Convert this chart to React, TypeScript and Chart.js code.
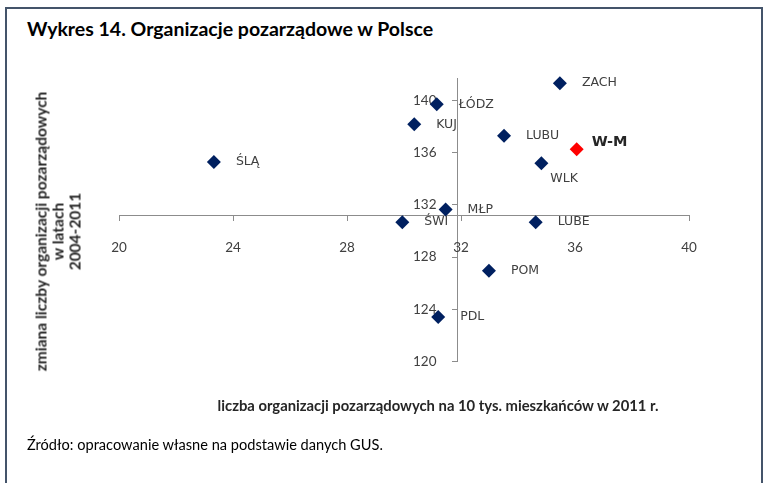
import React, { useEffect, useRef } from "react";
import { Chart, registerables } from "chart.js";

Chart.register(...registerables);

// ---- data ----
const regions = ["ŚLĄ", "ŁÓDZ", "KUJ", "ZACH", "LUBU", "W-M", "WLK", "MŁP", "ŚWI", "LUBE", "POM", "PDL"];
const orgsPer10k = [23.33, 31.15, 30.36, 35.47, 33.51, 36.06, 34.82, 31.46, 29.94, 34.62, 32.98, 31.2];
const change2004to2011 = [135.28, 139.69, 138.16, 141.3, 137.29, 136.25, 135.18, 131.64, 130.67, 130.67, 126.96, 123.42];
const highlightRegion = "W-M";
const xTickValues = [20, 24, 28, 32, 36, 40];
const yTickValues = [120, 124, 128, 132, 136, 140];
const xRange = [20, 40];
const yRange = [120, 141.7];
const crossAt = { x: 31.86, y: 131.22 };

const TITLE = "Wykres 14. Organizacje pozarządowe w Polsce";
const SOURCE = "Źródło: opracowanie własne na podstawie danych GUS.";
const X_TITLE = "liczba organizacji pozarządowych na 10 tys. mieszkańców w 2011 r.";
const Y_TITLE = ["zmiana liczby organizacji pozarządowych", "w latach", "2004-2011"];

// ---- styles ----
const NAVY = "#002060";
const RED = "#ff0000";
const AXIS = "#8c8c8c";
const TICK_TEXT = "#404040";
const LABEL_TEXT = "#404040";
const labelPlacement: Record<string, { dx: number; dy: number }> = {
  WLK: { dx: 9, dy: 16 },
  "W-M": { dx: 15, dy: -7 },
};
const defaultPlacement = { dx: 22, dy: 0 };

export default function App() {
  const ref = useRef<HTMLCanvasElement>(null);

  useEffect(() => {
    const canvas = ref.current!;
    const pts = regions.map((name, i) => ({ x: orgsPer10k[i], y: change2004to2011[i], name }));
    const mainPts = pts.filter((p) => p.name !== highlightRegion);
    const hiPts = pts.filter((p) => p.name === highlightRegion);

    const customText = {
      id: "customText",
      beforeDatasetsDraw(chart: any) {
        const ctx = chart.ctx;
        const xs = chart.scales.x;
        const ys = chart.scales.y;
        const axisX = xs.getPixelForValue(crossAt.x);
        const axisY = ys.getPixelForValue(crossAt.y);
        ctx.save();
        ctx.fillStyle = TICK_TEXT;
        ctx.font = "13.5px Lato";
        ctx.textAlign = "center";
        ctx.textBaseline = "middle";
        xs.ticks.forEach((t: any) => ctx.fillText(String(t.value), xs.getPixelForValue(t.value), axisY + 33));
        ctx.textAlign = "right";
        ys.ticks.forEach((t: any) => ctx.fillText(String(t.value), axisX - 20.5, ys.getPixelForValue(t.value)));
        ctx.restore();
      },
      afterDatasetsDraw(chart: any) {
        const ctx = chart.ctx;
        ctx.save();
        ctx.textAlign = "left";
        ctx.textBaseline = "middle";
        chart.data.datasets.forEach((ds: any, di: number) => {
          const meta = chart.getDatasetMeta(di);
          meta.data.forEach((el: any, i: number) => {
            const name = ds.data[i].name as string;
            const pl = labelPlacement[name] || defaultPlacement;
            if (name === highlightRegion) {
              ctx.font = "bold 14.5px 'DejaVu Sans'";
              ctx.fillStyle = "#262626";
            } else {
              ctx.font = "12.5px 'DejaVu Sans'";
              ctx.fillStyle = LABEL_TEXT;
            }
            ctx.fillText(name, el.x + pl.dx, el.y + pl.dy);
          });
        });
        ctx.restore();
      },
    };

    const axisCommon = {
      type: "linear" as const,
      ticks: { display: false },
      grid: { drawOnChartArea: false, drawTicks: true, tickLength: 5, color: AXIS, lineWidth: 1 },
      border: { color: AXIS, width: 1 },
    };

    const chart = new Chart(canvas, {
      type: "scatter",
      data: {
        datasets: [
          {
            data: mainPts as any,
            backgroundColor: NAVY,
            borderColor: NAVY,
            borderWidth: 0,
            pointStyle: "rectRot",
            pointRadius: 7,
            pointHoverRadius: 7,
            clip: false as any,
          },
          {
            data: hiPts as any,
            backgroundColor: RED,
            borderColor: RED,
            borderWidth: 0,
            pointStyle: "rectRot",
            pointRadius: 7,
            pointHoverRadius: 7,
            clip: false as any,
          },
        ],
      },
      options: {
        responsive: false,
        animation: false,
        devicePixelRatio: 1,
        events: [],
        layout: { padding: { left: 119, right: 79, top: 78, bottom: 121.3 } },
        plugins: { legend: { display: false }, tooltip: { enabled: false } },
        scales: {
          x: {
            ...axisCommon,
            min: xRange[0],
            max: xRange[1],
            position: { y: crossAt.y } as any,
            afterBuildTicks: (s: any) => {
              s.ticks = xTickValues.map((v) => ({ value: v }));
            },
          },
          y: {
            ...axisCommon,
            min: yRange[0],
            max: yRange[1],
            position: { x: crossAt.x } as any,
            afterBuildTicks: (s: any) => {
              s.ticks = yTickValues.map((v) => ({ value: v }));
            },
          },
        } as any,
      },
      plugins: [customText],
    });
    return () => chart.destroy();
  }, []);

  return (
    <div
      style={{
        position: "absolute",
        left: 0,
        top: 0,
        width: 768,
        height: 483,
        overflow: "hidden",
        background: "#fff",
        fontFamily: "Lato, sans-serif",
      }}
    >
      <div
        style={{
          position: "absolute",
          left: 5,
          top: 7,
          width: 758,
          height: 600,
          border: "2px solid #44546a",
          boxSizing: "border-box",
        }}
      />
      <div
        style={{
          position: "absolute",
          left: 27,
          top: 18.5,
          fontSize: 19.5,
          fontWeight: 700,
          lineHeight: "20px",
          color: "#000",
          whiteSpace: "nowrap",
        }}
      >
        {TITLE}
      </div>
      <canvas ref={ref} width={768} height={483} style={{ position: "absolute", left: 0, top: 0, width: 768, height: 483 }} />
      <div
        style={{
          position: "absolute",
          left: 438 - 300,
          width: 600,
          top: 397.8,
          textAlign: "center",
          fontSize: 14.8,
          fontWeight: 700,
          lineHeight: "15px",
          color: "#262626",
          whiteSpace: "nowrap",
        }}
      >
        {X_TITLE}
      </div>
      <div
        style={{
          position: "absolute",
          left: 58 - 170,
          top: 231 - 25.5,
          width: 340,
          height: 51,
          textAlign: "center",
          fontSize: 15.5,
          fontWeight: 700,
          lineHeight: "17px",
          color: "#262626",
          whiteSpace: "nowrap",
          transform: "rotate(-90deg)",
          transformOrigin: "center center",
        }}
      >
        {Y_TITLE.map((l, i) => (
          <div key={i}>{l}</div>
        ))}
      </div>
      <div
        style={{
          position: "absolute",
          left: 27,
          top: 437.3,
          fontSize: 14.6,
          lineHeight: "15px",
          color: "#000",
          whiteSpace: "nowrap",
        }}
      >
        {SOURCE}
      </div>
    </div>
  );
}
